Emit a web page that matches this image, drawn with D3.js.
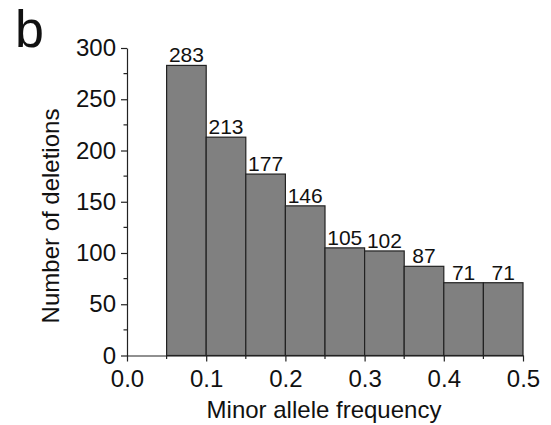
<!DOCTYPE html>
<html><head><meta charset="utf-8">
<script src="https://cdn.jsdelivr.net/npm/d3@7"></script>
<style>body{margin:0;background:#fff}svg{display:block;font-family:"Liberation Sans",Arial,sans-serif}</style>
</head><body><svg id="c" width="551" height="425"></svg>
<script>
const binStarts = [0.05,0.10,0.15,0.20,0.25,0.30,0.35,0.40,0.45];
const binWidth = 0.05;
const counts = [283,213,177,146,105,102,87,71,71];
const xTicks = [0.0,0.1,0.2,0.3,0.4,0.5];
const yTicks = [0,50,100,150,200,250,300];
const xTitle = "Minor allele frequency";
const yTitle = "Number of deletions";
const panel = "b";

const svg = d3.select("#c");
const x = d3.scaleLinear().domain([0,0.5]).range([127,523]);
const y = d3.scaleLinear().domain([0,300]).range([355.5,48]);

svg.append("g").selectAll("rect").data(counts).join("rect")
  .attr("x",(d,i)=>x(binStarts[i]))
  .attr("y",d=>y(d))
  .attr("width",(d,i)=>x(binStarts[i]+binWidth)-x(binStarts[i]))
  .attr("height",d=>y(0)-y(d))
  .attr("fill","#808080").attr("stroke","#222").attr("stroke-width",1.2);

svg.append("g").selectAll("text").data(counts).join("text")
  .attr("x",(d,i)=>x(binStarts[i]+binWidth/2))
  .attr("y",d=>y(d)-3)
  .attr("text-anchor","middle").attr("font-size",21).attr("fill","#111")
  .text(d=>d);

const xMinor = d3.range(0.05,0.5,0.1);
const yMinor = d3.range(25,300,50);

const xa = svg.append("g").attr("transform",`translate(0,${y(0)})`)
  .call(d3.axisBottom(x).tickValues(xTicks).tickFormat(d3.format(".1f")).tickSizeInner(6).tickSizeOuter(0).tickPadding(8));
xa.append("g").selectAll("line").data(xMinor).join("line")
  .attr("x1",d=>x(d)).attr("x2",d=>x(d)).attr("y1",0).attr("y2",3.5).attr("stroke","#222");
const ya = svg.append("g").attr("transform",`translate(${x(0)},0)`)
  .call(d3.axisLeft(y).tickValues(yTicks).tickSizeInner(6).tickSizeOuter(0).tickPadding(5));
ya.append("g").selectAll("line").data(yMinor).join("line")
  .attr("y1",d=>y(d)).attr("y2",d=>y(d)).attr("x1",0).attr("x2",-3.5).attr("stroke","#222");
[xa,ya].forEach(a=>{
  a.selectAll("path,line").attr("stroke","#222").attr("stroke-width",1.2);
  a.selectAll("text").attr("font-size",24).attr("fill","#111").attr("font-family","'Liberation Sans',Arial,sans-serif");
});

svg.append("text").attr("x",324).attr("y",418).attr("text-anchor","middle")
  .attr("font-size",24).attr("fill","#111").text(xTitle);
svg.append("text").attr("transform","translate(59,216) rotate(-90)").attr("text-anchor","middle")
  .attr("font-size",24).attr("fill","#111").text(yTitle);
svg.append("text").attr("x",15).attr("y",47).attr("font-size",52).attr("fill","#111").text(panel);
</script></body></html>
